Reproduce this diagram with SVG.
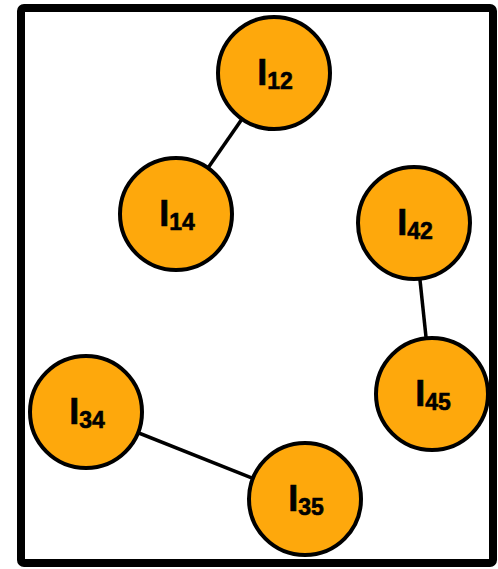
<svg xmlns="http://www.w3.org/2000/svg" width="498" height="569" viewBox="0 0 498 569">
  <style>
    .node circle { fill: #FEA80C; stroke: #000; stroke-width: 4; }
    .node text { font-family: "Liberation Sans", Arial, sans-serif; font-weight: bold; font-size: 36px; fill: #000; stroke: #000; stroke-width: 0.6; text-anchor: middle; }
    .node tspan { font-size: 23px; }
    .edge { stroke: #000; stroke-width: 3.5; fill: none; }
  </style>
  <rect x="21" y="8" width="472" height="555" rx="3" fill="#fff" stroke="#000" stroke-width="8"/>
  <g id="connectors">
    <line class="edge" x1="274" y1="73" x2="176" y2="214"/>
    <line class="edge" x1="414" y1="223" x2="432" y2="394"/>
    <line class="edge" x1="86" y1="412" x2="305" y2="499"/>
  </g>
  <g id="I12" class="node">
    <circle cx="274" cy="73" r="56"/>
    <text x="275" y="85">I<tspan dy="4">12</tspan></text>
  </g>
  <g id="I14" class="node">
    <circle cx="176" cy="214" r="56"/>
    <text x="177" y="226">I<tspan dy="4">14</tspan></text>
  </g>
  <g id="I42" class="node">
    <circle cx="414" cy="223" r="56"/>
    <text x="415" y="235">I<tspan dy="4">42</tspan></text>
  </g>
  <g id="I45" class="node">
    <circle cx="432" cy="394" r="56"/>
    <text x="433" y="406">I<tspan dy="4">45</tspan></text>
  </g>
  <g id="I34" class="node">
    <circle cx="86" cy="412" r="56"/>
    <text x="87" y="424">I<tspan dy="4">34</tspan></text>
  </g>
  <g id="I35" class="node">
    <circle cx="305" cy="499" r="56"/>
    <text x="306" y="511">I<tspan dy="4">35</tspan></text>
  </g>
</svg>
